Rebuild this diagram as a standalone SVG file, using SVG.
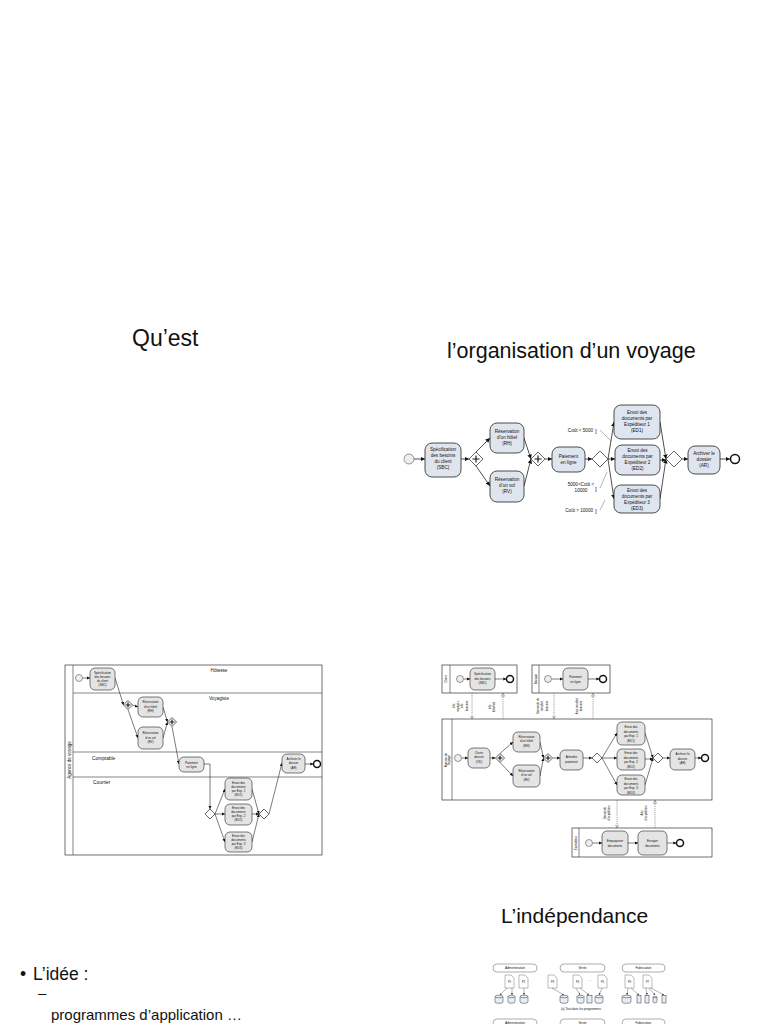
<svg xmlns="http://www.w3.org/2000/svg" width="768" height="1024" viewBox="0 0 768 1024">
<defs>
<style>
.t{font-family:"Liberation Sans",Arial,sans-serif;fill:#111}
.n{fill:#dfe5ef;stroke:#222;stroke-width:0.8}
.g{fill:#e4e4e4;stroke:#222;stroke-width:0.6}
.e{fill:none;stroke:#222;stroke-width:0.8}
.e2{fill:none;stroke:#222;stroke-width:0.6}
.mf{fill:none;stroke:#444;stroke-width:0.5;stroke-dasharray:1.2 0.9}
.gw{fill:#fff;stroke:#222;stroke-width:0.7}
.pl{fill:none;stroke:#111;stroke-width:1.1}
.st{fill:#eee;stroke:#555;stroke-width:0.6}
.en{fill:#fff;stroke:#111;stroke-width:1.5}
.pool{fill:#fff;stroke:#333;stroke-width:0.7}
.lane{stroke:#333;stroke-width:0.6}
.s1{font-size:4.6px;text-anchor:middle}
.s2{font-size:3.3px;text-anchor:middle}
.s3{font-size:3px;text-anchor:middle}
.pill{fill:#fff;stroke:#777;stroke-width:0.6}
.doc{fill:#fff;stroke:#777;stroke-width:0.5}
.cyl{fill:#e8eef5;stroke:#333;stroke-width:0.5}
.thin{fill:none;stroke:#444;stroke-width:0.4}
</style>
<marker id="a" viewBox="0 0 6 6" refX="6" refY="3" markerWidth="4.5" markerHeight="4.5" orient="auto" markerUnits="userSpaceOnUse"><path d="M0,0L6,3L0,6z" fill="#111"/></marker>
<marker id="b" viewBox="0 0 6 6" refX="6" refY="3" markerWidth="3.2" markerHeight="3.2" orient="auto" markerUnits="userSpaceOnUse"><path d="M0,0L6,3L0,6z" fill="#111"/></marker>
<marker id="o" viewBox="0 0 6 6" refX="6" refY="3" markerWidth="3.5" markerHeight="3.5" orient="auto" markerUnits="userSpaceOnUse"><path d="M0.5,0.5L5.5,3L0.5,5.5z" fill="#fff" stroke="#444" stroke-width="0.8"/></marker>
<marker id="c" viewBox="0 0 6 6" refX="6" refY="3" markerWidth="2" markerHeight="2" orient="auto" markerUnits="userSpaceOnUse"><path d="M0,0L6,3L0,6z" fill="#333"/></marker>
</defs>
<rect width="768" height="1024" fill="#fff"/>

<!-- titles -->
<g id="titles">
<text class="t" x="132" y="346" font-size="23">Qu’est</text>
<text class="t" x="447" y="358" font-size="21.5">l’organisation d’un voyage</text>
<text class="t" x="501" y="923" font-size="21">L’indépendance</text>
</g>

<!-- ===== Diagram 1 ===== -->
<g id="d1-connectors">
<path class="e" marker-end="url(#a)" d="M414,459H425"/>
<path class="e" marker-end="url(#a)" d="M461,459H469"/>
<path class="e" marker-end="url(#a)" d="M476,452L490,438"/>
<path class="e" marker-end="url(#a)" d="M476,466L490,486"/>
<path class="e" marker-end="url(#a)" d="M524,438L531,459"/>
<path class="e" marker-end="url(#a)" d="M524,486L531,459"/>
<path class="e" marker-end="url(#a)" d="M545,459H552"/>
<path class="e" marker-end="url(#a)" d="M585,459H592"/>
<path class="e" marker-end="url(#a)" d="M608,459L614,422"/>
<path class="e" marker-end="url(#a)" d="M608,459H615"/>
<path class="e" marker-end="url(#a)" d="M608,459L614,499"/>
<path class="e" marker-end="url(#a)" d="M660,422L666,459"/>
<path class="e" marker-end="url(#a)" d="M660,460H666"/>
<path class="e" marker-end="url(#a)" d="M660,499L666,459"/>
<path class="e" marker-end="url(#a)" d="M682,459H688"/>
<path class="e" marker-end="url(#a)" d="M720,459H730"/>
<path class="thin" d="M600,430L611,441M600,488L607,472M600,510L605,500"/>
</g>
<g id="d1-start"><circle class="st" cx="409" cy="459" r="5"/></g>
<g id="d1-sbc"><rect class="n" x="425" y="443" width="36" height="34" rx="7"/>
<text class="t s1" x="443"><tspan x="443" y="451">Spécification</tspan><tspan x="443" y="457">des besoins</tspan><tspan x="443" y="463">du client</tspan><tspan x="443" y="469">(SBC)</tspan></text></g>
<g id="d1-gw1"><path class="gw" d="M476,452L483,459L476,466L469,459Z"/><path class="pl" d="M476,455.5V462.5M472.5,459H479.5"/></g>
<g id="d1-rh"><rect class="n" x="490" y="423" width="34" height="30" rx="7"/>
<text class="t s1"><tspan x="507" y="433">Réservation</tspan><tspan x="507" y="439">d’un hôtel</tspan><tspan x="507" y="445">(RH)</tspan></text></g>
<g id="d1-rv"><rect class="n" x="490" y="471" width="34" height="31" rx="7"/>
<text class="t s1"><tspan x="507" y="481">Réservation</tspan><tspan x="507" y="487">d’un vol</tspan><tspan x="507" y="493">(RV)</tspan></text></g>
<g id="d1-gw2"><path class="gw" d="M538,452L545,459L538,466L531,459Z"/><path class="pl" d="M538,455.5V462.5M534.5,459H541.5"/></g>
<g id="d1-pay"><rect class="n" x="552" y="447" width="33" height="25" rx="7"/>
<text class="t s1"><tspan x="568.5" y="458">Paiement</tspan><tspan x="568.5" y="464">en ligne</tspan></text></g>
<g id="d1-xor1"><path class="gw" d="M600,451L608,459L600,467L592,459Z"/></g>
<g id="d1-ed1"><rect class="n" x="614" y="405" width="46" height="34" rx="7"/>
<text class="t s1"><tspan x="637" y="413.5">Envoi des</tspan><tspan x="637" y="419.5">documents par</tspan><tspan x="637" y="425.5">Expéditeur 1</tspan><tspan x="637" y="431.5">(ED1)</tspan></text></g>
<g id="d1-ed2"><rect class="n" x="615" y="445" width="45" height="30" rx="7"/>
<text class="t s1"><tspan x="637.5" y="452">Envoi des</tspan><tspan x="637.5" y="458">documents par</tspan><tspan x="637.5" y="464">Expéditeur 2</tspan><tspan x="637.5" y="470">(ED2)</tspan></text></g>
<g id="d1-ed3"><rect class="n" x="614" y="485" width="46" height="28" rx="7"/>
<text class="t s1"><tspan x="637" y="491.5">Envoi des</tspan><tspan x="637" y="497.5">documents par</tspan><tspan x="637" y="503.5">Expéditeur 3</tspan><tspan x="637" y="509.5">(ED3)</tspan></text></g>
<g id="d1-xor2"><path class="gw" d="M674,451L682,459L674,467L666,459Z"/></g>
<g id="d1-ar"><rect class="n" x="688" y="446" width="32" height="28" rx="7"/>
<text class="t s1"><tspan x="704" y="455">Archiver le</tspan><tspan x="704" y="461">dossier</tspan><tspan x="704" y="467">(AR)</tspan></text></g>
<g id="d1-end"><circle class="en" cx="735" cy="459" r="4.5"/></g>
<g id="d1-labels">
<text class="t" font-size="4.6" text-anchor="end" x="593" y="432">Coût &lt; 5000</text>
<text class="t" font-size="6" x="595" y="433">]</text>
<text class="t s1" x="581" y="486">5000&lt;Coût &lt;</text>
<text class="t s1" x="581" y="492">10000</text>
<text class="t" font-size="6" x="595" y="491">]</text>
<text class="t" font-size="4.6" text-anchor="end" x="593" y="511.5">Coût &gt; 10000</text>
<text class="t" font-size="6" x="595" y="513">]</text>
</g>

<!-- ===== Diagram 2 ===== -->
<g id="d2-pool">
<rect class="pool" x="65" y="665" width="257" height="190"/>
<line class="lane" x1="73" y1="665" x2="73" y2="855"/>
<line class="lane" x1="73" y1="693" x2="322" y2="693"/>
<line class="lane" x1="73" y1="752" x2="322" y2="752"/>
<line class="lane" x1="73" y1="777" x2="322" y2="777"/>
<text class="t" font-size="4.5" text-anchor="middle" transform="translate(70.5,760) rotate(-90)">Agence de voyage</text>
<text class="t" font-size="4.6" text-anchor="middle" x="219" y="672">Hôtesse</text>
<text class="t" font-size="4.6" text-anchor="middle" x="219" y="700">Voyagiste</text>
<text class="t" font-size="4.8" x="92" y="760">Comptable</text>
<text class="t" font-size="4.8" x="93" y="784">Courrier</text>
</g>
<g id="d2-connectors">
<path class="e2" marker-end="url(#b)" d="M82.5,678H90"/>
<path class="e2" marker-end="url(#b)" d="M115,678L123.5,705"/>
<path class="e2" marker-end="url(#b)" d="M132.5,705L138,707"/>
<path class="e2" marker-end="url(#b)" d="M128,709.5L138,738"/>
<path class="e2" marker-end="url(#b)" d="M163,707L167.5,722"/>
<path class="e2" marker-end="url(#b)" d="M163,738L167.5,722"/>
<path class="e2" marker-end="url(#b)" d="M172,726.5L179,764"/>
<path class="e2" marker-end="url(#b)" d="M204,764H210V809"/>
<path class="e2" marker-end="url(#b)" d="M215,814L225,789"/>
<path class="e2" marker-end="url(#b)" d="M215,814H225"/>
<path class="e2" marker-end="url(#b)" d="M215,814L225,842"/>
<path class="e2" marker-end="url(#b)" d="M252,789L259,814"/>
<path class="e2" marker-end="url(#b)" d="M252,814H259"/>
<path class="e2" marker-end="url(#b)" d="M252,842L259,814"/>
<path class="e2" marker-end="url(#b)" d="M269,814L282,763"/>
<path class="e2" marker-end="url(#b)" d="M305,764H313.5"/>
</g>
<g id="d2-start"><circle class="st" cx="79" cy="678" r="3.5"/></g>
<g id="d2-sbc"><rect class="g" x="90" y="668" width="25" height="22" rx="5"/>
<text class="t s3"><tspan x="102.5" y="673.5">Spécification</tspan><tspan x="102.5" y="677.5">des besoins</tspan><tspan x="102.5" y="681.5">du client</tspan><tspan x="102.5" y="685.5">(SBC)</tspan></text></g>
<g id="d2-gw1"><path class="gw" d="M128,700.5L132.5,705L128,709.5L123.5,705Z"/><path class="pl" d="M128,702.5V707.5M125.5,705H130.5" stroke-width="0.8"/></g>
<g id="d2-rh"><rect class="g" x="138" y="697" width="25" height="20" rx="5"/>
<text class="t s3"><tspan x="150.5" y="703">Réservation</tspan><tspan x="150.5" y="707.5">d’un hôtel</tspan><tspan x="150.5" y="712">(RH)</tspan></text></g>
<g id="d2-rv"><rect class="g" x="138" y="727" width="25" height="22" rx="5"/>
<text class="t s3"><tspan x="150.5" y="734">Réservation</tspan><tspan x="150.5" y="738.5">d’un vol</tspan><tspan x="150.5" y="743">(RV)</tspan></text></g>
<g id="d2-gw2"><path class="gw" d="M172,717.5L176.5,722L172,726.5L167.5,722Z"/><path class="pl" d="M172,719.5V724.5M169.5,722H174.5" stroke-width="0.8"/></g>
<g id="d2-pay"><rect class="g" x="179" y="757" width="25" height="15" rx="5"/>
<text class="t s3"><tspan x="191.5" y="763.5">Paiement</tspan><tspan x="191.5" y="767.5">en ligne</tspan></text></g>
<g id="d2-xor1"><path class="gw" d="M210,809L215,814L210,819L205,814Z"/></g>
<g id="d2-ed1"><rect class="g" x="225" y="778" width="27" height="22" rx="5"/>
<text class="t s3"><tspan x="238.5" y="783.5">Envoi des</tspan><tspan x="238.5" y="787.5">documents</tspan><tspan x="238.5" y="791.5">par Exp. 1</tspan><tspan x="238.5" y="795.5">(ED1)</tspan></text></g>
<g id="d2-ed2"><rect class="g" x="225" y="804" width="27" height="21" rx="5"/>
<text class="t s3"><tspan x="238.5" y="809">Envoi des</tspan><tspan x="238.5" y="813">documents</tspan><tspan x="238.5" y="817">par Exp. 2</tspan><tspan x="238.5" y="821">(ED2)</tspan></text></g>
<g id="d2-ed3"><rect class="g" x="225" y="832" width="27" height="20" rx="5"/>
<text class="t s3"><tspan x="238.5" y="836.5">Envoi des</tspan><tspan x="238.5" y="840.5">documents</tspan><tspan x="238.5" y="844.5">par Exp. 3</tspan><tspan x="238.5" y="848.5">(ED3)</tspan></text></g>
<g id="d2-xor2"><path class="gw" d="M264,809L269,814L264,819L259,814Z"/></g>
<g id="d2-ar"><rect class="g" x="282" y="754" width="23" height="19" rx="5"/>
<text class="t s3"><tspan x="293.5" y="759.5">Archiver le</tspan><tspan x="293.5" y="764">dossier</tspan><tspan x="293.5" y="768.5">(AR)</tspan></text></g>
<g id="d2-end"><circle class="en" cx="317" cy="764" r="3.5"/></g>

<!-- ===== Diagram 3 ===== -->
<g id="d3-pools">
<rect class="pool" x="442" y="665" width="75" height="28"/><line class="lane" x1="450" y1="665" x2="450" y2="693"/>
<text class="t s3" transform="translate(447.2,679) rotate(-90)">Client</text>
<rect class="pool" x="532" y="665" width="78" height="28"/><line class="lane" x1="539" y1="665" x2="539" y2="693"/>
<text class="t s3" transform="translate(536.5,679) rotate(-90)">Banque</text>
<rect class="pool" x="442" y="719" width="270" height="81"/><line class="lane" x1="452" y1="719" x2="452" y2="800"/>
<text class="t s3" transform="translate(446.5,760) rotate(-90)">Agence de</text>
<text class="t s3" transform="translate(450.3,760) rotate(-90)">voyage</text>
<rect class="pool" x="572" y="828" width="140" height="29"/><line class="lane" x1="579" y1="828" x2="579" y2="857"/>
<text class="t s3" transform="translate(576.5,843) rotate(-90)">Expéditeur</text>
</g>
<g id="d3-connectors">
<path class="e2" marker-end="url(#b)" d="M463.5,679H470"/>
<path class="e2" marker-end="url(#b)" d="M495,679H506.5"/>
<path class="e2" marker-end="url(#b)" d="M551.5,679H563"/>
<path class="e2" marker-end="url(#b)" d="M588,679H599.5"/>
<path class="e2" marker-end="url(#b)" d="M461.5,758H468"/>
<path class="e2" marker-end="url(#b)" d="M490,758H495.5"/>
<path class="e2" marker-end="url(#b)" d="M500,753.5L513,742"/>
<path class="e2" marker-end="url(#b)" d="M500,762.5L513,776"/>
<path class="e2" marker-end="url(#b)" d="M540,742L543.5,758"/>
<path class="e2" marker-end="url(#b)" d="M540,776L543.5,758"/>
<path class="e2" marker-end="url(#b)" d="M552.5,758H560"/>
<path class="e2" marker-end="url(#b)" d="M583,758H592"/>
<path class="e2" marker-end="url(#b)" d="M602,758L617,733"/>
<path class="e2" marker-end="url(#b)" d="M602,758H617"/>
<path class="e2" marker-end="url(#b)" d="M602,758L617,785"/>
<path class="e2" marker-end="url(#b)" d="M645,733L653,758"/>
<path class="e2" marker-end="url(#b)" d="M645,759H653"/>
<path class="e2" marker-end="url(#b)" d="M645,785L653,758"/>
<path class="e2" marker-end="url(#b)" d="M663,758H670"/>
<path class="e2" marker-end="url(#b)" d="M695,758H701.5"/>
<path class="e2" marker-end="url(#b)" d="M592.5,843H602"/>
<path class="e2" marker-end="url(#b)" d="M628,843H638"/>
<path class="e2" marker-end="url(#b)" d="M667,843H676.5"/>
<path class="mf" marker-end="url(#o)" d="M472,693V719"/>
<path class="mf" marker-end="url(#o)" d="M503,719V693"/>
<path class="mf" marker-end="url(#o)" d="M554,693V719"/>
<path class="mf" marker-end="url(#o)" d="M593,719V693"/>
<path class="mf" marker-end="url(#o)" d="M617,800V828"/>
<path class="mf" marker-end="url(#o)" d="M655,828V800"/>
</g>
<g id="d3-mflabels" class="t" font-size="2.8" text-anchor="middle">
<text transform="translate(455,706) rotate(-90)">Info</text>
<text transform="translate(459,706) rotate(-90)">voyage +</text>
<text transform="translate(463,706) rotate(-90)">info</text>
<text transform="translate(468,706) rotate(-90)">bancaire</text>
<text transform="translate(491,707) rotate(-90)">Info</text>
<text transform="translate(495,707) rotate(-90)">hôtel/vol</text>
<text transform="translate(539,706) rotate(-90)">Demande de</text>
<text transform="translate(543,706) rotate(-90)">transfert</text>
<text transform="translate(548,706) rotate(-90)">bancaire</text>
<text transform="translate(578,706) rotate(-90)">Avis transfert</text>
<text transform="translate(582,706) rotate(-90)">bancaire</text>
<text transform="translate(606,813) rotate(-90)">Demande</text>
<text transform="translate(610,813) rotate(-90)">d’expédition</text>
<text transform="translate(643,813) rotate(-90)">Avis</text>
<text transform="translate(647,813) rotate(-90)">d’expédition</text>
</g>
<g id="d3-client-start"><circle class="st" cx="460" cy="679" r="3.5"/></g>
<g id="d3-client-sbc"><rect class="g" x="470" y="668" width="25" height="22" rx="5"/>
<text class="t s3"><tspan x="482.5" y="675">Spécification</tspan><tspan x="482.5" y="679.5">des besoins</tspan><tspan x="482.5" y="684">(SBC)</tspan></text></g>
<g id="d3-client-end"><circle class="en" cx="510" cy="679" r="3.5"/></g>
<g id="d3-bank-start"><circle class="st" cx="548" cy="679" r="3.5"/></g>
<g id="d3-bank-pay"><rect class="g" x="563" y="668" width="25" height="22" rx="5"/>
<text class="t s3"><tspan x="575.5" y="678">Paiement</tspan><tspan x="575.5" y="682.5">en ligne</tspan></text></g>
<g id="d3-bank-end"><circle class="en" cx="603" cy="679" r="3.5"/></g>
<g id="d3-start"><circle class="st" cx="458" cy="758" r="3.5"/></g>
<g id="d3-od"><rect class="g" x="468" y="748" width="22" height="20" rx="5"/>
<text class="t s3"><tspan x="479" y="753.5">Ouvrir</tspan><tspan x="479" y="758">dossier</tspan><tspan x="479" y="762.5">(OD)</tspan></text></g>
<g id="d3-gw1"><path class="gw" d="M500,753.5L504.5,758L500,762.5L495.5,758Z"/><path class="pl" d="M500,755.5V760.5M497.5,758H502.5" stroke-width="0.8"/></g>
<g id="d3-rh"><rect class="g" x="513" y="732" width="27" height="20" rx="5"/>
<text class="t s3"><tspan x="526.5" y="737.5">Réservation</tspan><tspan x="526.5" y="742">d’un hôtel</tspan><tspan x="526.5" y="746.5">(RH)</tspan></text></g>
<g id="d3-rv"><rect class="g" x="513" y="765" width="27" height="22" rx="5"/>
<text class="t s3"><tspan x="526.5" y="771.5">Réservation</tspan><tspan x="526.5" y="776">d’un vol</tspan><tspan x="526.5" y="780.5">(RV)</tspan></text></g>
<g id="d3-gw2"><path class="gw" d="M548,753.5L552.5,758L548,762.5L543.5,758Z"/><path class="pl" d="M548,755.5V760.5M545.5,758H550.5" stroke-width="0.8"/></g>
<g id="d3-wait"><rect class="g" x="560" y="750" width="23" height="20" rx="5"/>
<text class="t s3"><tspan x="571.5" y="758">Attendre</tspan><tspan x="571.5" y="762.5">paiement</tspan></text></g>
<g id="d3-xor1"><path class="gw" d="M597,753L602,758L597,763L592,758Z"/></g>
<g id="d3-ed1"><rect class="g" x="617" y="722" width="28" height="23" rx="5"/>
<text class="t s3"><tspan x="631" y="728">Envoi des</tspan><tspan x="631" y="732.5">documents</tspan><tspan x="631" y="737">par Exp. 1</tspan><tspan x="631" y="741.5">(ED1)</tspan></text></g>
<g id="d3-ed2"><rect class="g" x="617" y="749" width="28" height="21" rx="5"/>
<text class="t s3"><tspan x="631" y="754">Envoi des</tspan><tspan x="631" y="758.5">documents</tspan><tspan x="631" y="763">par Exp. 2</tspan><tspan x="631" y="767.5">(ED2)</tspan></text></g>
<g id="d3-ed3"><rect class="g" x="617" y="775" width="28" height="20" rx="5"/>
<text class="t s3"><tspan x="631" y="780">Envoi des</tspan><tspan x="631" y="784.5">documents</tspan><tspan x="631" y="789">par Exp. 3</tspan><tspan x="631" y="793.5">(ED3)</tspan></text></g>
<g id="d3-xor2"><path class="gw" d="M658,753L663,758L658,763L653,758Z"/></g>
<g id="d3-ar"><rect class="g" x="670" y="749" width="25" height="21" rx="5"/>
<text class="t s3"><tspan x="682.5" y="755">Archiver le</tspan><tspan x="682.5" y="759.5">dossier</tspan><tspan x="682.5" y="764">(AR)</tspan></text></g>
<g id="d3-end"><circle class="en" cx="705" cy="758" r="3.5"/></g>
<g id="d3-exp-start"><circle class="st" cx="589" cy="843" r="3.5"/></g>
<g id="d3-emp"><rect class="g" x="602" y="831" width="26" height="24" rx="5"/>
<text class="t s3"><tspan x="615" y="842">Empaqueter</tspan><tspan x="615" y="846.5">documents</tspan></text></g>
<g id="d3-env"><rect class="g" x="638" y="831" width="29" height="24" rx="5"/>
<text class="t s3"><tspan x="652.5" y="842">Envoyer</tspan><tspan x="652.5" y="846.5">documents</tspan></text></g>
<g id="d3-exp-end"><circle class="en" cx="680" cy="843" r="3.5"/></g>

<!-- ===== Diagram 4 ===== -->
<g id="d4">
<rect class="pill" x="493" y="964" width="44" height="8" rx="4"/><text class="t" font-size="3.2" text-anchor="middle" x="515" y="969.2">Administration</text>
<rect class="pill" x="560" y="964" width="45" height="8" rx="4"/><text class="t" font-size="3.2" text-anchor="middle" x="582.5" y="969.2">Vente</text>
<rect class="pill" x="622" y="964" width="43" height="8" rx="4"/><text class="t" font-size="3.2" text-anchor="middle" x="643.5" y="969.2">Fabrication</text>
<path class="doc" d="M505,975h6l3,3v10h-9z"/><text class="t" font-size="2.6" text-anchor="middle" x="509.5" y="983">P1</text>
<path class="doc" d="M519,975h6l3,3v10h-9z"/><text class="t" font-size="2.6" text-anchor="middle" x="523.5" y="983">P2</text>
<path class="doc" d="M548,975h6l3,3v10h-9z"/><text class="t" font-size="2.6" text-anchor="middle" x="552.5" y="983">P3</text>
<path class="doc" d="M573,975h6l3,3v10h-9z"/><text class="t" font-size="2.6" text-anchor="middle" x="577.5" y="983">P4</text>
<text class="t" font-size="3" text-anchor="middle" x="590" y="982">· · ·</text>
<path class="doc" d="M598,975h6l3,3v10h-9z"/><text class="t" font-size="2.6" text-anchor="middle" x="602.5" y="983">P5</text>
<path class="doc" d="M625,975h6l3,3v10h-9z"/><text class="t" font-size="2.6" text-anchor="middle" x="629.5" y="983">P6</text>
<path class="doc" d="M643,975h6l3,3v10h-9z"/><text class="t" font-size="2.6" text-anchor="middle" x="647.5" y="983">P7</text>
<g class="thin">
<path marker-end="url(#c)" d="M507,988L500,995"/><path marker-end="url(#c)" d="M512,988L512,995"/>
<path marker-end="url(#c)" d="M524,988L524,995"/>
<path marker-end="url(#c)" d="M552,988L564,995"/>
<path marker-end="url(#c)" d="M576,988L580,995"/><path marker-end="url(#c)" d="M580,988L589,995"/>
<path marker-end="url(#c)" d="M602,988L599,995"/>
<path marker-end="url(#c)" d="M628,988L627,995"/><path marker-end="url(#c)" d="M631,988L639,995"/>
<path marker-end="url(#c)" d="M646,988L647,995"/><path marker-end="url(#c)" d="M649,988L655,995"/><path marker-end="url(#c)" d="M651,988L664,995"/>
</g>
<g>
<path class="cyl" d="M495,996.5v5.5a4,1.3 0 0 0 8,0v-5.5a4,1.3 0 0 0 -8,0a4,1.3 0 0 0 8,0"/>
<path class="cyl" d="M508,996.5v5.5a3.5,1.2 0 0 0 7,0v-5.5a3.5,1.2 0 0 0 -7,0a3.5,1.2 0 0 0 7,0"/>
<path class="cyl" d="M520,996.5v5.5a4,1.3 0 0 0 8,0v-5.5a4,1.3 0 0 0 -8,0a4,1.3 0 0 0 8,0"/>
<path class="cyl" d="M560,996.5v5.5a4,1.3 0 0 0 8,0v-5.5a4,1.3 0 0 0 -8,0a4,1.3 0 0 0 8,0"/>
<path class="cyl" d="M577,996.5v5.5a3.5,1.2 0 0 0 7,0v-5.5a3.5,1.2 0 0 0 -7,0a3.5,1.2 0 0 0 7,0"/>
<rect class="cyl" x="587" y="995.5" width="5" height="7.5"/>
<path class="cyl" d="M595,996.5v5.5a4,1.3 0 0 0 8,0v-5.5a4,1.3 0 0 0 -8,0a4,1.3 0 0 0 8,0"/>
<path class="cyl" d="M622,996.5v5.5a4.5,1.3 0 0 0 9,0v-5.5a4.5,1.3 0 0 0 -9,0a4.5,1.3 0 0 0 9,0"/>
<rect class="cyl" x="637" y="995.5" width="4" height="7.5"/>
<rect class="cyl" x="645" y="995.5" width="4" height="7.5"/>
<path class="cyl" d="M653,997v5a2,0.8 0 0 0 4,0v-5a2,0.8 0 0 0 -4,0a2,0.8 0 0 0 4,0"/>
<rect class="cyl" x="662" y="995.5" width="4" height="7.5"/>
</g>
<text class="t" font-size="3" text-anchor="middle" x="581" y="1010">(a) Tout dans les programmes</text>
<rect class="pill" x="493" y="1019" width="44" height="8" rx="4"/><text class="t" font-size="3.2" text-anchor="middle" x="515" y="1024">Administration</text>
<rect class="pill" x="560" y="1019" width="45" height="8" rx="4"/><text class="t" font-size="3.2" text-anchor="middle" x="582.5" y="1024">Vente</text>
<rect class="pill" x="622" y="1019" width="43" height="8" rx="4"/><text class="t" font-size="3.2" text-anchor="middle" x="643.5" y="1024">Fabrication</text>
</g>

<!-- bottom-left text -->
<g id="idea">
<text class="t" font-size="17.5" x="20" y="980">•</text>
<text class="t" font-size="17.5" x="33" y="980">L’idée :</text>
<text class="t" font-size="15" x="38" y="998">–</text>
<text class="t" font-size="15" x="51" y="1020">programmes d’application …</text>
</g>
</svg>
